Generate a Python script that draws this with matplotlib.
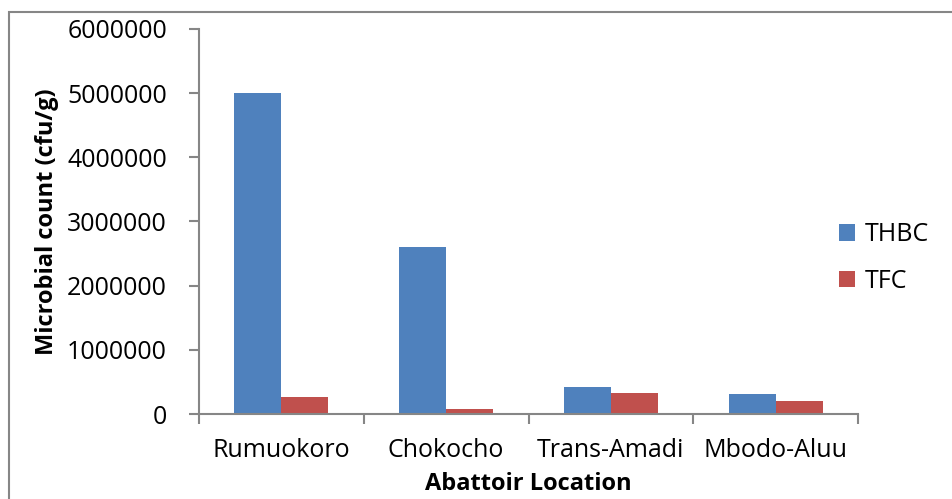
import numpy as np
import matplotlib.pyplot as plt
from matplotlib.patches import Rectangle

locations = ['Rumuokoro', 'Chokocho', 'Trans-Amadi', 'Mbodo-Aluu']
thbc = [5000000, 2600000, 415000, 315000]
tfc = [260000, 72000, 335000, 195000]
yticks = [0, 1000000, 2000000, 3000000, 4000000, 5000000, 6000000]

plt.rcParams['font.family'] = ['Open Sans', 'DejaVu Sans']
grey = '#868686'
fs = 18

fig = plt.figure(figsize=(9.52, 4.99), dpi=100)
ax = fig.add_axes([199/952, 1-414/499, 659/952, 385/499])

x = np.arange(len(locations))
w = 0.286
ax.bar(x - w/2, thbc, w, color='#4f81bd', label='THBC')
ax.bar(x + w/2, tfc, w, color='#c0504d', label='TFC')

ax.set_xlim(-0.5, len(locations) - 0.5)
ax.set_ylim(0, 6000000)
ax.set_yticks(yticks)
ax.set_yticklabels([str(v) for v in yticks], fontsize=fs)
ax.set_xticks(x)
ax.set_xticklabels(locations, fontsize=fs)
ax.set_xticks(np.arange(-0.5, len(locations)), minor=True)
ax.tick_params(axis='x', which='major', length=0, pad=17)
ax.tick_params(axis='x', which='minor', length=7, color=grey, width=1.5)
ax.tick_params(axis='y', length=7, color=grey, width=1.5, pad=16)

for s in ['top', 'right']:
    ax.spines[s].set_visible(False)
for s in ['left', 'bottom']:
    ax.spines[s].set_color(grey)
    ax.spines[s].set_linewidth(1.5)

ax.set_ylabel('Microbial count (cfu/g)', fontsize=17, fontweight='bold', labelpad=6)
ax.set_xlabel('Abattoir Location', fontsize=17, fontweight='bold', labelpad=7)

ax.legend(loc='center left', bbox_to_anchor=(0.937, 0.405), frameon=False,
          fontsize=fs, handlelength=0.65, handleheight=0.65,
          labelspacing=0.85, handletextpad=0.4)

fig.add_artist(Rectangle((9/952, -0.1), 2, 1.1 - 12/499, transform=fig.transFigure,
                         fill=False, edgecolor=grey, linewidth=1.5))

fig.savefig('out.png', dpi=100)
